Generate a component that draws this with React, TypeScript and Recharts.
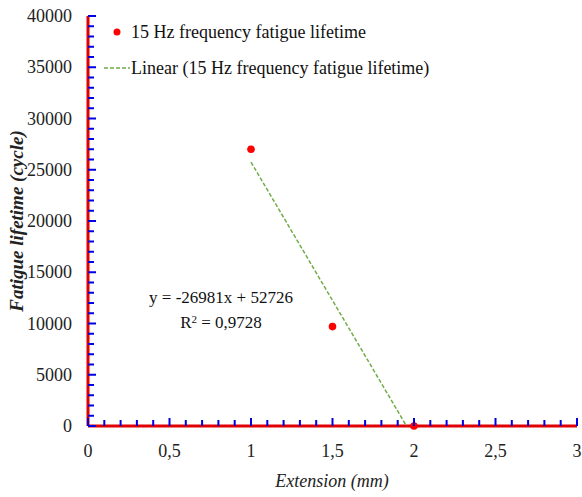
import { ScatterChart, Scatter, XAxis, YAxis } from 'recharts'

// measured points
const extension = [1, 1.5, 2]
const lifetime = [27000, 9700, 0]

// Excel linear trendline (y = -26981x + 52726), clipped at y = 0
const trendX = [1, 1.954]
const trendY = [25745, 0]

const xTicks = [0, 0.1, 0.2, 0.3, 0.4, 0.5, 0.6, 0.7, 0.8, 0.9, 1, 1.1, 1.2, 1.3, 1.4, 1.5, 1.6, 1.7, 1.8, 1.9, 2, 2.1, 2.2, 2.3, 2.4, 2.5, 2.6, 2.7, 2.8, 2.9, 3]
const yTicks = [
  0, 1000, 2000, 3000, 4000, 5000, 6000, 7000, 8000, 9000, 10000, 11000, 12000, 13000, 14000, 15000,
  16000, 17000, 18000, 19000, 20000, 21000, 22000, 23000, 24000, 25000, 26000, 27000, 28000, 29000, 30000,
  31000, 32000, 33000, 34000, 35000, 36000, 37000, 38000, 39000, 40000,
]

const seriesName = '15 Hz frequency fatigue lifetime'
const trendName = 'Linear (15 Hz frequency fatigue lifetime)'
const equation = 'y = -26981x + 52726'
const rSquared = '0,9728'
const xTitle = 'Extension (mm)'
const yTitle = 'Fatigue lifetime (cycle)'

const points = extension.map((x, i) => ({ x, y: lifetime[i] }))
const trend = trendX.map((x, i) => ({ x, y: trendY[i] }))

const FONT = '"Liberation Serif", serif'
// temporary bright colours to check the axis and tick marks are really drawn
const AXIS = '#e00000'
const TICK = '#0000e0'

const XTick = ({ x, y, payload }: any) => {
  const v = payload.value
  const major = Math.abs(v * 2 - Math.round(v * 2)) < 1e-6
  const axisY = y - 18
  return (
    <g>
      <rect x={x - 1} y={axisY - (major ? 8 : 6)} width={2} height={major ? 8 : 6} fill={TICK} />
      {major && (
        <text x={x} y={y + 13} textAnchor="middle" fontSize={18} fontFamily={FONT} fill="#222">
          {String(v).replace('.', ',')}
        </text>
      )}
    </g>
  )
}

const YTick = ({ x, y, payload }: any) => {
  const v = payload.value
  const major = v % 5000 === 0
  return (
    <g>
      <rect x={x + 16} y={y - 1} width={major ? 8 : 6} height={2} fill={TICK} />
      {major && (
        <text x={x} y={y + 6} textAnchor="end" fontSize={18} fontFamily={FONT} fill="#222">
          {v}
        </text>
      )}
    </g>
  )
}

export default function App() {
  return (
    <div style={{ position: 'absolute', left: 0, top: 0, width: 582, height: 497, background: '#fff' }}>
      <ScatterChart width={582} height={497} margin={{ top: 16, right: 5, bottom: 0, left: 0 }}>
        <XAxis
          type="number"
          dataKey="x"
          domain={[0, 3]}
          ticks={xTicks}
          interval={0}
          tickSize={0}
          tickMargin={18}
          tick={<XTick />}
          axisLine={{ stroke: AXIS, strokeWidth: 3 }}
          height={71}
        />
        <YAxis
          type="number"
          dataKey="y"
          domain={[0, 40000]}
          ticks={yTicks}
          interval={0}
          tickSize={0}
          tickMargin={16}
          tick={<YTick />}
          axisLine={{ stroke: AXIS, strokeWidth: 3 }}
          width={88}
        />
        <Scatter
          name={trendName}
          data={trend}
          line={{ stroke: '#70ad47', strokeWidth: 1.5, strokeDasharray: '4 2' }}
          shape={() => <g />}
          isAnimationActive={false}
        />
        <Scatter
          name={seriesName}
          data={points}
          fill="#ff0000"
          shape={(p: any) => <circle cx={p.cx} cy={p.cy} r={3.8} fill="#ff0000" />}
          isAnimationActive={false}
        />
      </ScatterChart>
      <svg width={582} height={497} style={{ position: 'absolute', left: 0, top: 0, pointerEvents: 'none' }}>
        <text x={332} y={487} textAnchor="middle" fontSize={18} fontStyle="italic" fontFamily={FONT} fill="#222">
          {xTitle}
        </text>
        <text
          x={23}
          y={221}
          transform="rotate(-90 23 221)"
          textAnchor="middle"
          fontSize={19}
          fontStyle="italic"
          fontWeight="bold"
          fontFamily={FONT}
          fill="#222"
        >
          {yTitle}
        </text>
      </svg>
      <div style={{ position: 'absolute', left: 104, top: 14, fontFamily: FONT, fontSize: 18, color: '#111', lineHeight: '36px' }}>
        <div style={{ display: 'flex', alignItems: 'center' }}>
          <svg width={26} height={12}>
            <circle cx={13} cy={6} r={3.5} fill="#ff0000" />
          </svg>
          <span style={{ marginLeft: 1 }}>{seriesName}</span>
        </div>
        <div style={{ display: 'flex', alignItems: 'center' }}>
          <svg width={26} height={6}>
            <line x1={0} x2={26} y1={3} y2={3} stroke="#70ad47" strokeWidth={1.5} strokeDasharray="4 2" />
          </svg>
          <span style={{ marginLeft: 1 }}>{trendName}</span>
        </div>
      </div>
      <div
        style={{
          position: 'absolute',
          left: 141,
          top: 285,
          width: 160,
          textAlign: 'center',
          fontFamily: FONT,
          fontSize: 17,
          color: '#111',
          lineHeight: '25px',
        }}
      >
        <div>{equation}</div>
        <div>
          R<sup style={{ fontSize: 11, verticalAlign: 'top', position: 'relative', top: -3 }}>2</sup> = {rSquared}
        </div>
      </div>
    </div>
  )
}
